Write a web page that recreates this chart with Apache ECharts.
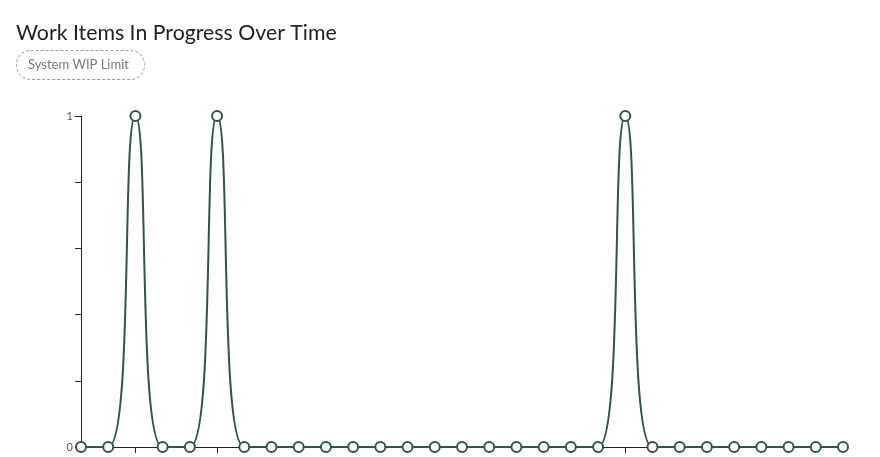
<!DOCTYPE html>
<html>
<head>
<meta charset="utf-8">
<script src="https://cdn.jsdelivr.net/npm/echarts@6/dist/echarts.min.js"></script>
<style>html,body{margin:0;padding:0;background:#fff}#c{width:880px;height:457px}</style>
</head>
<body>
<div id="c"></div>
<script>
var categories = ['D1','D2','D3','D4','D5','D6','D7','D8','D9','D10','D11','D12','D13','D14','D15','D16','D17','D18','D19','D20','D21','D22','D23','D24','D25','D26','D27','D28','D29'];
var wipValues = [0,0,1,0,0,1,0,0,0,0,0,0,0,0,0,0,0,0,0,0,1,0,0,0,0,0,0,0,0];
var tickedIndices = [2,5,20];
var yTickLabels = ['0','1'];
var titleText = 'Work Items In Progress Over Time';
var legendText = 'System WIP Limit';

var chart = echarts.init(document.getElementById('c'));
chart.setOption({
  animation: false,
  title: {
    text: titleText, left: 11, top: 18,
    textStyle: {fontFamily: 'Lato', fontWeight: 'normal', fontSize: 21.3, color: '#222'}
  },
  graphic: [
    {type: 'rect', left: 16, top: 50, shape: {width: 128, height: 29, r: 14},
     style: {fill: '#fff', stroke: '#999', lineWidth: 1, lineDash: [3, 2]}},
    {type: 'text', left: 28, top: 58,
     style: {text: legendText, fill: '#777', font: '13px Lato'}}
  ],
  grid: {left: 81, right: 37, top: 116, bottom: 10, containLabel: false},
  xAxis: {
    type: 'category', boundaryGap: false, data: categories,
    axisLine: {lineStyle: {color: '#222', width: 1}},
    axisTick: {show: true, length: 6, lineStyle: {color: '#222'},
      interval: function (i) { return tickedIndices.indexOf(i) >= 0; }},
    axisLabel: {show: false},
    splitLine: {show: false}
  },
  yAxis: {
    type: 'value', min: 0, max: 1, interval: 0.2,
    axisLine: {show: true, lineStyle: {color: '#222', width: 1}},
    axisTick: {show: true, length: 6, lineStyle: {color: '#222'}},
    axisLabel: {color: '#555', fontSize: 11, fontFamily: 'Lato', margin: 8,
      formatter: function (v) { return v === 0 ? yTickLabels[0] : (v === 1 ? yTickLabels[1] : ''); }},
    splitLine: {show: false}
  },
  series: [{
    type: 'line', data: wipValues, smooth: 0.5,
    symbol: 'emptyCircle', symbolSize: 10,
    lineStyle: {color: '#2f5647', width: 2},
    itemStyle: {color: '#2f5647', borderWidth: 2, borderColor: '#2f5647'},
    z: 3
  }]
});
</script>
</body>
</html>
